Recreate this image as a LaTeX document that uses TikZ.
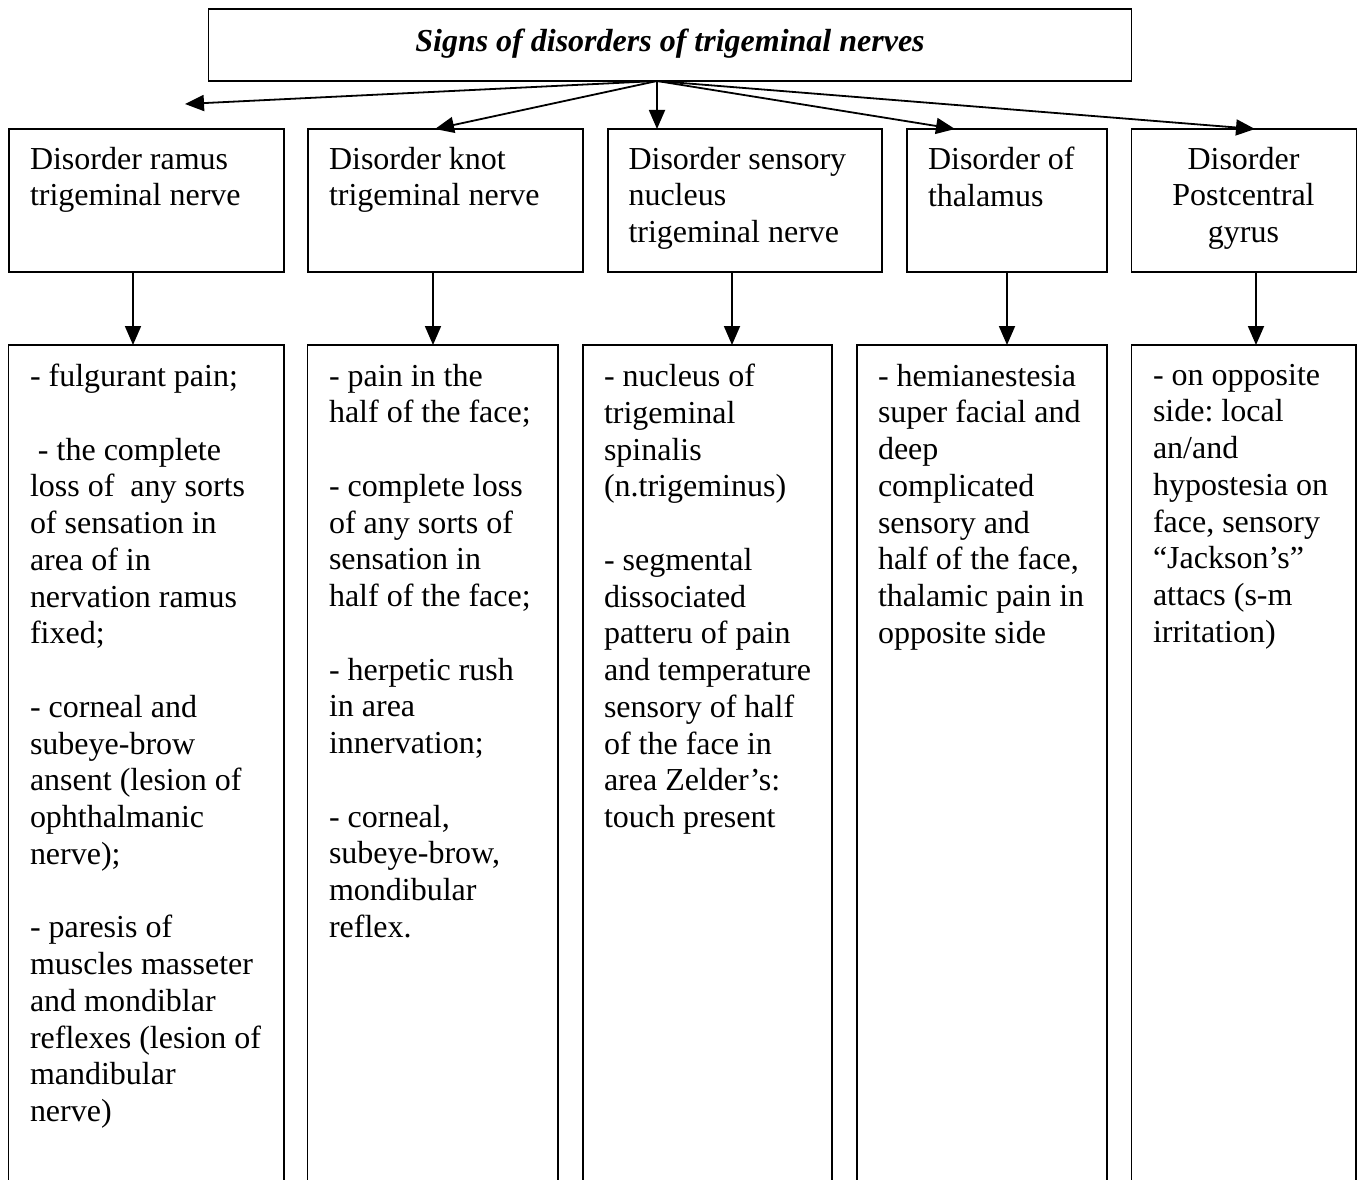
\documentclass[tikz,border=0pt]{standalone}
\usepackage{fontspec}
\setmainfont{Liberation Serif}
\usetikzlibrary{arrows.meta,calc}
\frenchspacing
\begin{document}
\begin{tikzpicture}[x=1pt,y=-1pt,
  box/.style={draw,line width=1.7pt,inner sep=0pt,outer sep=0pt,anchor=north west},
  openbox/.style={inner sep=0pt,outer sep=0pt,anchor=north west,minimum height=900pt},
  openline/.style={line width=1.7pt},
  txt/.style={inner sep=0pt,outer sep=0pt,anchor=north west,align=left,
    font=\fontsize{32}{36.75}\selectfont\frenchspacing,execute at begin node={\rule{0pt}{26pt}}},
  arr/.style={line width=1.8pt,-{Triangle[length=19pt,width=16pt]}}]
\useasboundingbox (0,0) rectangle (1363,1180);

% title box
\node[box,minimum width=923pt,minimum height=72pt] (top) at (208.5,9) {};
\node[inner sep=0pt,anchor=base,font=\fontsize{32}{36.75}\selectfont\bfseries\itshape] (title) at (670,52) {Signs of disorders of trigeminal nerves};

% second row
\node[box,minimum width=275pt,minimum height=143pt] (r1) at (9,129) {};
\node[box,minimum width=275pt,minimum height=143pt] (r2) at (308,129) {};
\node[box,minimum width=274pt,minimum height=143pt] (r3) at (608,129) {};
\node[box,minimum width=200pt,minimum height=143pt] (r4) at (907,129) {};
\node[box,minimum width=225pt,minimum height=143pt] (r5) at (1131.5,129) {};

\node[txt] (t1) at (30,147) {Disorder ramus\\trigeminal nerve};
\node[txt] (t2) at (329,147) {Disorder knot\\trigeminal nerve};
\node[txt] (t3) at (628.5,147) {Disorder sensory\\nucleus\\trigeminal nerve};
\node[txt] (t4) at (928,147) {Disorder of\\thalamus};
\node[txt,anchor=north,align=center] (t5) at (1243.5,147) {Disorder\\Postcentral\\gyrus};

% third row (open at the bottom)
\node[openbox,minimum width=275.5pt] (l1) at (8.5,345) {};
\node[openbox,minimum width=250.5pt] (l2) at (307.5,345) {};
\node[openbox,minimum width=249pt] (l3) at (583,345) {};
\node[openbox,minimum width=250pt] (l4) at (857,345) {};
\node[openbox,minimum width=224.5pt] (l5) at (1131.5,345) {};
\foreach \b in {l1,l2,l3,l4,l5}{
  \draw[openline] (\b.south west) -- (\b.north west) -- (\b.north east) -- (\b.south east);
}

\node[txt] (d1) at (30,364) {- fulgurant pain;\\[36.75pt]
~- the complete\\
loss of~ any sorts\\
of sensation in\\
area of in\\
nervation ramus\\
fixed;\\[36.75pt]
- corneal and\\
subeye-brow\\
ansent (lesion of\\
ophthalmanic\\
nerve);\\[36.75pt]
- paresis of\\
muscles masseter\\
and mondiblar\\
reflexes (lesion of\\
mandibular\\
nerve)};

\node[txt] (d2) at (329,364) {- pain in the\\
half of the face;\\[36.75pt]
- complete loss\\
of any sorts of\\
sensation in\\
half of the face;\\[36.75pt]
- herpetic rush\\
in area\\
innervation;\\[36.75pt]
- corneal,\\
subeye-brow,\\
mondibular\\
reflex.};

\node[txt] (d3) at (604,364) {- nucleus of\\
trigeminal\\
spinalis\\
(n.trigeminus)\\[36.75pt]
- segmental\\
dissociated\\
patteru of pain\\
and temperature\\
sensory of half\\
of the face in\\
area Zelder’s:\\
touch present};

\node[txt] (d4) at (878,364) {- hemianestesia\\
super facial and\\
deep\\
complicated\\
sensory and\\
half of the face,\\
thalamic pain in\\
opposite side};

\node[txt] (d5) at (1153,364) {- on opposite\\
side: local\\
an/and\\
hypostesia on\\
face, sensory\\
“Jackson’s”\\
attacs (s-m\\
irritation)};

% arrows from the title
\coordinate (src) at ($(top.south west)+(448.5,0)$);
\coordinate (lft) at (185,104);
\draw[arr] (src) -- (lft);
\draw[arr] (src) -- ($(r2.north west)+(127,0)$);
\draw[arr] (src) -- (src |- r3.north);
\draw[arr] (src) -- ($(r4.north west)+(48,0)$);
\draw[arr] (src) -- ($(r5.north west)+(123.5,0)$);

% vertical arrows
\coordinate (v1) at ($(r1.south west)+(124,0)$);
\coordinate (v2) at ($(r2.south west)+(125,0)$);
\coordinate (v3) at ($(r3.south west)+(124,0)$);
\coordinate (v4) at ($(r4.south west)+(100,0)$);
\coordinate (v5) at ($(r5.south west)+(124.5,0)$);
\draw[arr] (v1) -- (v1 |- l1.north);
\draw[arr] (v2) -- (v2 |- l2.north);
\draw[arr] (v3) -- (v3 |- l3.north);
\draw[arr] (v4) -- (v4 |- l4.north);
\draw[arr] (v5) -- (v5 |- l5.north);
\end{tikzpicture}
\end{document}
